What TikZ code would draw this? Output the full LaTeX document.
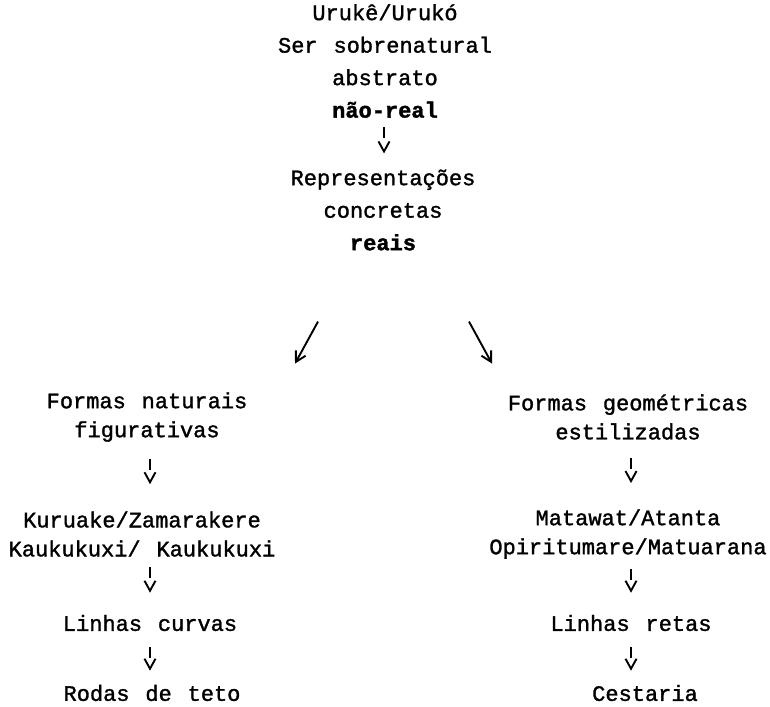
\documentclass[tikz,border=0pt]{standalone}
\usepackage{fontspec}
\setmainfont{Liberation Mono}[UprightFeatures={FakeBold=1.4}, BoldFeatures={FakeBold=1.6}, WordSpace=1.2]
\usetikzlibrary{arrows.meta}
\tikzset{rotulo/.style={align=center, inner sep=0pt, font=\fontsize{22}{29}\selectfont},
  topo/.style={rotulo, font=\fontsize{22}{32.5}\selectfont},
  seta/.style={-{Straight Barb[length=10pt,width=11pt]}, line width=1.9pt},
  setacurta/.style={seta, dash pattern=on 11pt off 30pt}}

\begin{document}
\begin{tikzpicture}[x=1pt,y=-1pt]
  \useasboundingbox (0,0) rectangle (770,706);
  \node[topo] (ser) at (385,61) {Urukê/Urukó\\Ser sobrenatural\\abstrato\\\textbf{não-real}};
  \node[topo] (repr) at (383,210) {Representações\\concretas\\\textbf{reais}};

  \node[rotulo] (natur) at (147,417) {Formas naturais\\figurativas};
  \node[rotulo] (kuru) at (142,534) {Kuruake/Zamarakere\\Kaukukuxi/ Kaukukuxi};
  \node[rotulo] (curv) at (150,623) {Linhas curvas};
  \node[rotulo] (rodas) at (152,693) {Rodas de teto};

  \node[rotulo] (geom) at (628,417) {Formas geométricas\\estilizadas};
  \node[rotulo] (mata) at (628,534) {Matawat/Atanta\\Opiritumare/Matuarana};
  \node[rotulo] (retas) at (631,623) {Linhas retas};
  \node[rotulo] (cest) at (645,693) {Cestaria};

  \draw[setacurta, shorten <=9pt, shorten >=16pt] ([xshift=-1pt]ser.south) -- ([xshift=1pt]repr.north);
  \draw[seta] ([xshift=-65pt,yshift=-71pt]repr.south) -- ([xshift=-88pt,yshift=-113pt]repr.south);
  \draw[seta] ([xshift=86pt,yshift=-71pt]repr.south) -- ([xshift=109pt,yshift=-113pt]repr.south);

  \draw[setacurta, shorten <=17pt, shorten >=27pt] ([xshift=3pt]natur.south) -- ([xshift=8pt]kuru.north);
  \draw[setacurta, shorten <=10pt, shorten >=22pt] ([xshift=8pt]kuru.south) -- (curv.north);
  \draw[setacurta, shorten <=16pt, shorten >=14pt] (curv.south) -- ([xshift=-2pt]rodas.north);

  \draw[setacurta, shorten <=18pt, shorten >=26pt] ([xshift=3pt]geom.south) -- ([xshift=3pt]mata.north);
  \draw[setacurta, shorten <=10pt, shorten >=22pt] ([xshift=3pt]mata.south) -- (retas.north);
  \draw[setacurta, shorten <=16pt, shorten >=14pt] (retas.south) -- ([xshift=-14pt]cest.north);
\end{tikzpicture}
\end{document}
